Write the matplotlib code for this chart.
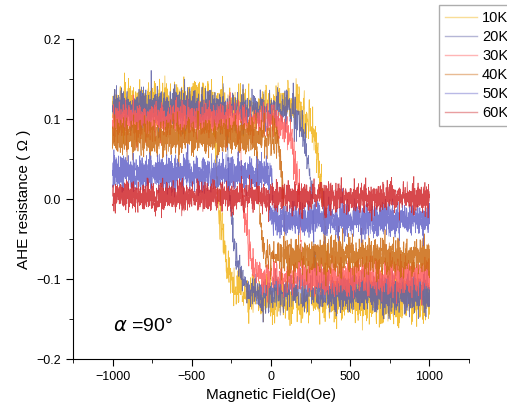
import numpy as np
import matplotlib
matplotlib.use("Agg")
import matplotlib.pyplot as plt
from matplotlib.ticker import MultipleLocator

plt.rcParams["font.family"] = ["Liberation Sans", "DejaVu Sans"]

# loop parameters, one entry per temperature
temps = ["10K", "20K", "30K", "40K", "50K", "60K"]
colors = ["#F2B418", "#5B5EA6", "#FF5C5C", "#CC6A10", "#6464C8", "#D0282C"]
r_high = [0.118, 0.112, 0.098, 0.078, 0.032, 0.003]     # value at -1000 Oe
r_low = [-0.125, -0.117, -0.097, -0.072, -0.026, 0.002]  # value at +1000 Oe
h_c = [335, 262, 180, 80, 12, 0]                         # switching field (Oe)
width = [80, 65, 55, 30, 6, 20]                          # rounding of the switch (Oe)
noise = [0.014, 0.012, 0.011, 0.011, 0.010, 0.009]       # measurement noise (Ohm)

rng = np.random.default_rng(7)
field = np.linspace(-1000, 1000, 1201)


def branch(h, hc, w, hi, lo, up):
    mid = (hi + lo) / 2
    amp = (hi - lo) / 2
    x = (hc - h) / w if up else (h + hc) / w
    f = np.where(x > 0, np.tanh(x), np.tanh(4 * x))
    return mid + amp * f if up else mid - amp * f


fig = plt.figure(figsize=(5.07, 4.09), dpi=100)
ax = fig.add_axes([73 / 507, 1 - 359 / 409, (469 - 73) / 507, (359 - 39) / 409])

for i in range(len(temps)):
    up = branch(field, h_c[i], width[i], r_high[i], r_low[i], True)
    down = branch(field, h_c[i], width[i], r_high[i], r_low[i], False)
    h = np.concatenate([field, field[::-1]])
    r = np.concatenate([up, down[::-1]])
    r = r + rng.normal(0, noise[i], r.size)
    ax.plot(h, r, color=colors[i], lw=0.5, alpha=0.85)

# legend handles drawn light, like the original
handles = [plt.Line2D([], [], color=c, lw=1.0, alpha=0.45) for c in colors]
fig.legend(handles, temps, loc="upper left", bbox_to_anchor=(439 / 507, 1 - 5 / 409),
           fontsize=10.5, frameon=True, fancybox=False, edgecolor="#999999",
           handlelength=2.2, labelspacing=0.35, borderpad=0.4, handletextpad=0.35,
           borderaxespad=0)

ax.set_xlim(-1250, 1250)
ax.set_ylim(-0.2, 0.2)
ax.set_xticks([-1000, -500, 0, 500, 1000])
ax.xaxis.set_minor_locator(MultipleLocator(250))
ax.set_yticks([-0.2, -0.1, 0.0, 0.1, 0.2])
ax.yaxis.set_minor_locator(MultipleLocator(0.05))
ax.spines["top"].set_visible(False)
ax.spines["right"].set_visible(False)
ax.tick_params(which="major", direction="out", length=5, labelsize=9)
ax.tick_params(which="minor", direction="out", length=3)

ax.set_xlabel("Magnetic Field(Oe)", fontsize=11)
ax.set_ylabel("AHE resistance ( Ω )", fontsize=11)
ax.text(-1000, -0.165, r"$\alpha$ =90°", fontsize=14)

fig.savefig("out.png", dpi=100)
